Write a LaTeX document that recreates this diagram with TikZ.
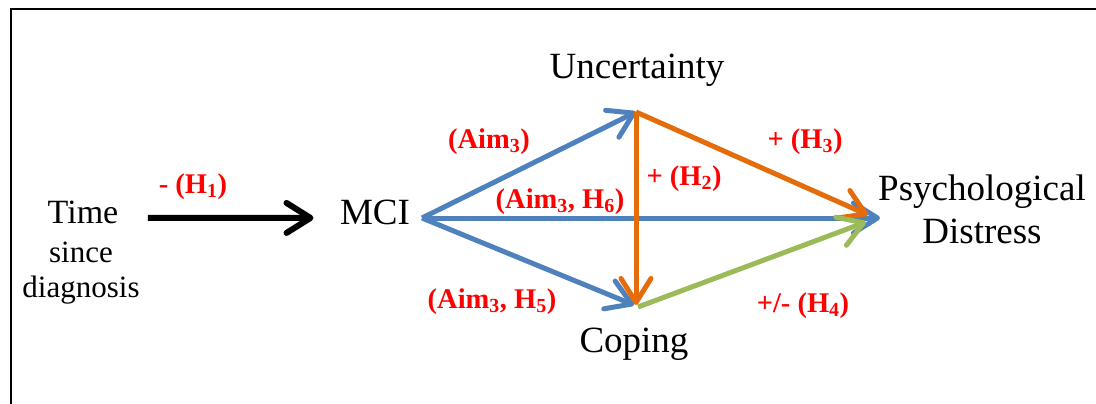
\documentclass[tikz,border=0pt]{standalone}
\usepackage{fontspec}
\setmainfont{Liberation Serif}
\newfontfamily\tnr{Liberation Serif}
\usetikzlibrary{arrows.meta}

\definecolor{pathblue}{HTML}{4F81BD}
\definecolor{pathorange}{HTML}{E46C0A}
\definecolor{pathgreen}{HTML}{9BBB59}

\tikzset{
  concept/.style={anchor=base, font=\tnr\fontsize{37}{40}\selectfont},
  subconcept/.style={anchor=base, font=\tnr\fontsize{31}{34}\selectfont},
  hyp/.style={anchor=base, text=red, font=\tnr\fontsize{28.5}{31}\selectfont\bfseries},
  barb/.style={-{Straight Barb[round,length=24pt,width=30pt]}},
  blueline/.style={barb, line width=5pt, pathblue},
  orangeline/.style={barb, line width=5pt, pathorange},
  greenline/.style={barb, line width=5pt, pathgreen}
}

\begin{document}
\begin{tikzpicture}[x=1pt,y=-1pt]
\useasboundingbox (0,0) rectangle (1096,404);
\draw[line width=2pt] (11,404) -- (11,9) -- (1096,9);

\node[concept, font=\tnr\fontsize{34}{36}\selectfont] (tm) at (83,223) {Time};
\node[subconcept] (snc) at (81,262) {since};
\node[subconcept] (dgn) at (81,297) {diagnosis};
\node[concept] (mci) at (375,224) {MCI};
\node[concept] (unc) at (637,78) {Uncertainty};
\node[concept] (cop) at (634,352) {Coping};
\node[concept] (psy) at (982,200) {Psychological};
\node[concept] (dis) at (982,243) {Distress};

\coordinate (jm) at (422,218);
\coordinate (ju) at (636,112);
\coordinate (jc) at (636,305);
\coordinate (jp) at (880,218);
\coordinate (jpo) at (868,215);
\coordinate (jpg) at (866,222);

\draw[line width=6pt, -{Straight Barb[round,length=24pt,width=30pt]}, shorten <=26pt, shorten >=23pt]
  ([yshift=-6pt]tm.east) -- ([yshift=-6pt]mci.west);

\draw[blueline] (jm) -- (ju);
\draw[blueline] (jm) -- ([xshift=-2pt]jc);
\draw[blueline] (jm) -- (jp);

\draw[orangeline] (ju) -- (jc);
\draw[orangeline] (ju) -- (jpo);

\draw[greenline] ([xshift=2pt,yshift=-2pt]jc) -- (jpg);

\node[hyp] (h1) at (193,193) {- (H\textsubscript{1})};
\node[hyp] (h3a) at (489,148) {(Aim\textsubscript{3})};
\node[hyp] (h6) at (560,208) {(Aim\textsubscript{3}, H\textsubscript{6})};
\node[hyp] (h2) at (684,185) {+ (H\textsubscript{2})};
\node[hyp] (h3) at (805,148) {+ (H\textsubscript{3})};
\node[hyp] (h5) at (492,308) {(Aim\textsubscript{3}, H\textsubscript{5})};
\node[hyp] (h4) at (803,312) {+/- (H\textsubscript{4})};
\end{tikzpicture}
\end{document}
